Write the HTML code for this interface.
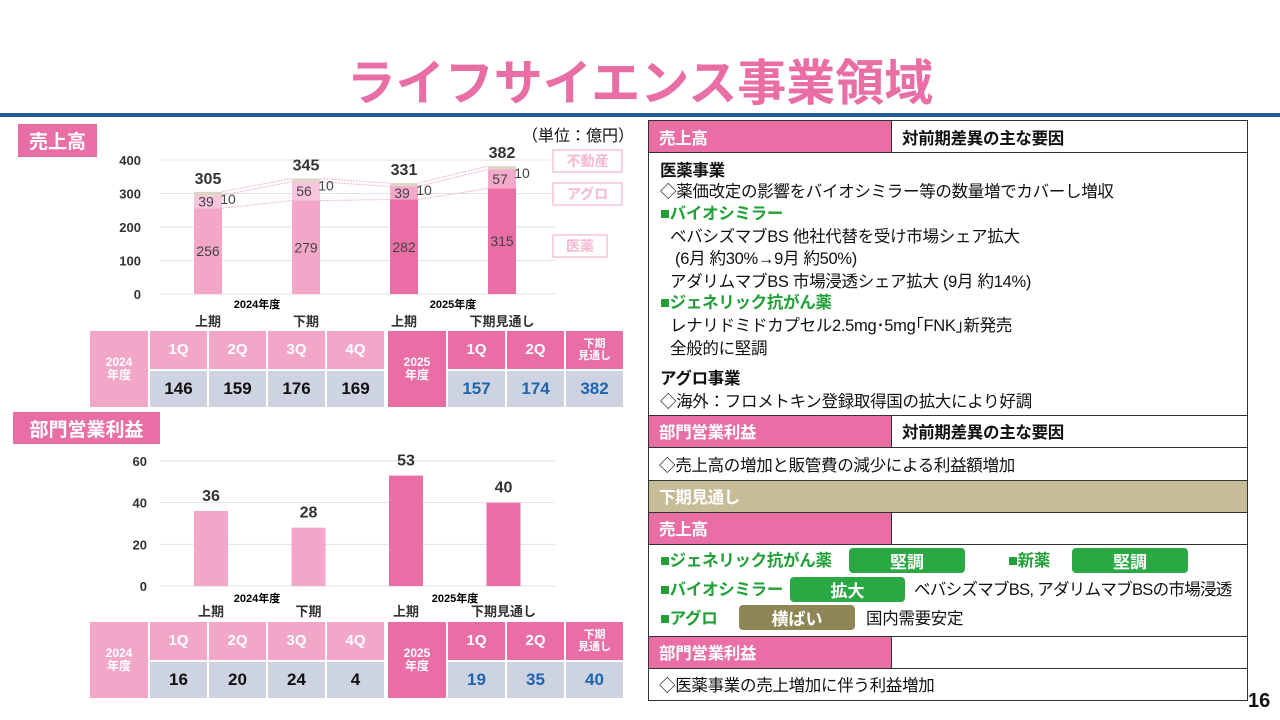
<!DOCTYPE html>
<html><head><meta charset="utf-8">
<style>
*{margin:0;padding:0;box-sizing:border-box}
body{width:1280px;height:720px;background:#fff;position:relative;overflow:hidden;font-family:"Liberation Sans","Noto Sans CJK JP",sans-serif;color:#111}
.a{position:absolute}
.lbl{background:#e86ea5;color:#fff;font-weight:bold;font-size:19px;display:flex;align-items:center;justify-content:center}
.cell{position:absolute;display:flex;align-items:center;justify-content:center;font-weight:bold}
.tr{position:absolute;left:648px;width:600px;border:1.5px solid #333;font-size:16.5px;letter-spacing:-0.3px}
.ln{position:absolute;left:660px;font-size:16.5px;white-space:nowrap;letter-spacing:-0.3px;line-height:1.2;transform:translateY(3px)}
.g{color:#22a038;font-weight:bold}
.tag{position:absolute;height:25px;border-radius:4px;color:#fff;font-weight:bold;font-size:17px;display:flex;align-items:center;justify-content:center}
</style></head><body>
<div class="a" style="left:0;width:1280px;top:44px;text-align:center;font-size:49px;font-weight:bold;color:#e86ea5">ライフサイエンス事業領域</div>
<div class="a" style="left:0;top:113px;width:1280px;height:4px;background:#1f5e9c"></div>

<div class="a lbl" style="left:18px;top:124px;width:79px;height:33px">売上高</div>
<div class="a" style="left:522px;top:122px;font-size:16px">（単位：億円）</div>
<svg class="a" id="c1" style="left:0;top:120px" width="640" height="210"></svg>

<div class="a lbl" style="left:13px;top:412px;width:147px;height:32px">部門営業利益</div>
<svg class="a" id="c2" style="left:0;top:440px" width="640" height="185"></svg>

<div id="t1"></div>
<div id="t2"></div>

<!-- right panel -->
<div class="tr" style="top:120px;height:33px;display:flex">
<div style="width:243px;background:#e86ea5;color:#fff;font-weight:bold;padding:4px 10px;border-right:1.5px solid #333">売上高</div>
<div style="padding:4px 10px;font-weight:bold">対前期差異の主な要因</div></div>
<div class="tr" style="top:152px;height:264px"></div>
<div class="ln" style="top:159px;font-weight:bold">医薬事業</div>
<div class="ln" style="top:180px">◇薬価改定の影響をバイオシミラー等の数量増でカバーし増収</div>
<div class="ln g" style="top:202px">■バイオシミラー</div>
<div class="ln" style="top:225px;left:670px">ベバシズマブBS 他社代替を受け市場シェア拡大</div>
<div class="ln" style="top:247px;left:675px">(6月 約30%→9月 約50%)</div>
<div class="ln" style="top:270px;left:670px">アダリムマブBS 市場浸透シェア拡大 (9月 約14%)</div>
<div class="ln g" style="top:291px">■ジェネリック抗がん薬</div>
<div class="ln" style="top:314px;left:670px">レナリドミドカプセル2.5mg･5mg｢FNK｣新発売</div>
<div class="ln" style="top:337px;left:670px">全般的に堅調</div>
<div class="ln" style="top:367px;font-weight:bold">アグロ事業</div>
<div class="ln" style="top:390px">◇海外：フロメトキン登録取得国の拡大により好調</div>

<div class="tr" style="top:415px;height:33px;display:flex">
<div style="width:243px;background:#e86ea5;color:#fff;font-weight:bold;padding:3px 10px;border-right:1.5px solid #333">部門営業利益</div>
<div style="padding:3px 10px;font-weight:bold">対前期差異の主な要因</div></div>
<div class="tr" style="top:447px;height:34px;padding:4px 10px">◇売上高の増加と販管費の減少による利益額増加</div>
<div class="tr" style="top:480px;height:33px;background:#c6bc98;color:#fff;font-weight:bold;padding:3px 10px">下期見通し</div>
<div class="tr" style="top:512px;height:33px;display:flex">
<div style="width:243px;background:#e86ea5;color:#fff;font-weight:bold;padding:3px 10px;border-right:1.5px solid #333">売上高</div></div>
<div class="tr" style="top:544px;height:93px"></div>
<div class="ln g" style="top:549px">■ジェネリック抗がん薬</div>
<div class="tag" style="left:849px;top:548px;width:116px;background:#2aa844">堅調</div>
<div class="ln g" style="top:549px;left:1008px">■新薬</div>
<div class="tag" style="left:1072px;top:548px;width:116px;background:#2aa844">堅調</div>
<div class="ln g" style="top:578px">■バイオシミラー</div>
<div class="tag" style="left:790px;top:577px;width:115px;background:#2aa844">拡大</div>
<div class="ln" style="top:578px;left:914px;letter-spacing:-0.7px">ベバシズマブBS, アダリムマブBSの市場浸透</div>
<div class="ln g" style="top:607px">■アグロ</div>
<div class="tag" style="left:739px;top:605px;width:116px;background:#8f8656">横ばい</div>
<div class="ln" style="top:607px;left:866px">国内需要安定</div>
<div class="tr" style="top:636px;height:33px;display:flex">
<div style="width:243px;background:#e86ea5;color:#fff;font-weight:bold;padding:3px 10px;border-right:1.5px solid #333">部門営業利益</div></div>
<div class="tr" style="top:668px;height:33px;padding:3px 10px">◇医薬事業の売上増加に伴う利益増加</div>
<div class="a" style="left:1248px;top:690px;font-size:20px;font-weight:bold">16</div>

<script>
const periods=["上期","下期","上期","下期見通し"];
const years=["2024年度","2025年度"];
const pharma=[256,279,282,315];
const agro=[39,56,39,57];
const estate=[10,10,10,10];
const totals=[305,345,331,382];
const salesTicks=[0,100,200,300,400];
const profit=[36,28,53,40];
const profitTicks=[0,20,40,60];
const qHeads=["1Q","2Q","3Q","4Q"];
const qHeads25=["1Q","2Q","下期<br>見通し"];
const salesQ24=[146,159,176,169];
const salesQ25=[157,174,382];
const profitQ24=[16,20,24,4];
const profitQ25=[19,35,40];

const NS="http://www.w3.org/2000/svg";
function mk(svg,tag,at,txt){const e=document.createElementNS(NS,tag);for(const k in at)e.setAttribute(k,at[k]);if(txt!==undefined)e.textContent=txt;svg.appendChild(e);return e;}
const xc=i=>208+i*98;
const light=i=>i<2;
// chart1
(function(){const s=document.getElementById('c1');const y0=174,k=134/400;const y=v=>y0-v*k;
salesTicks.forEach(t=>{const g=mk(s,'line',{x1:160,x2:555,y1:y(t),y2:y(t),stroke:'#e2e2e2'});
const l=mk(s,'text',{x:141,y:y(t)+5,'text-anchor':'end','font-size':13,'font-weight':'bold',fill:'#333'},t);});
const cum=pharma.map((p,n)=>p+agro[n]);
for(let i=0;i<3;i++){[pharma,cum,totals].forEach(vv=>{
const ln=mk(s,'line',{x1:xc(i)+14,x2:xc(i+1)-14,y1:y(vv[i]),y2:y(vv[i+1]),stroke:'#f2b5d0','stroke-dasharray':'2,1','stroke-width':1});});}
pharma.forEach((p,i)=>{const c1=light(i)?'#f2a7c9':'#e86ea5',c2=light(i)?'#f7c6dc':'#f3a9c9';
let b=mk(s,'rect',{x:xc(i)-14,width:28,y:y(p),height:p*k,fill:c1});
b=mk(s,'rect',{x:xc(i)-14,width:28,y:y(p+agro[i]),height:agro[i]*k,fill:c2});
b=mk(s,'rect',{x:xc(i)-14,width:28,y:y(totals[i]),height:(totals[i]-p-agro[i])*k,fill:'#ddd6c6'});
let t=mk(s,'text',{x:xc(i),y:y(p/2)+5,'text-anchor':'middle','font-size':14,fill:'#444'},p);
t=mk(s,'text',{x:xc(i)-2,y:y(p+agro[i]/2)+5,'text-anchor':'middle','font-size':14,fill:'#444'},agro[i]);
t=mk(s,'text',{x:xc(i)+20,y:y(totals[i])+12,'text-anchor':'middle','font-size':14,fill:'#444'},estate[i]);
t=mk(s,'text',{x:xc(i),y:y(totals[i])-8,'text-anchor':'middle','font-size':16,'font-weight':'bold',fill:'#333'},totals[i]);
t=mk(s,'text',{x:xc(i),y:206,'text-anchor':'middle','font-size':13,'font-weight':'bold',fill:'#333'},periods[i]);});
years.forEach((yy,j)=>{const t=mk(s,'text',{x:257+j*196,y:188,'text-anchor':'middle','font-size':11,'font-weight':'bold'},yy);});
[["不動産",553,30,69],["アグロ",553,63,69],["医薬",553,115,54]].forEach(a=>{const r=mk(s,'rect',{x:a[1],y:a[2],width:a[3],height:22,fill:'none',stroke:'#f5c4da','stroke-width':1.5});
const t=mk(s,'text',{x:a[1]+a[3]/2,y:a[2]+16,'text-anchor':'middle','font-size':14,'font-weight':'bold',fill:'#f5b8d2'},a[0]);});
})();
// chart2
(function(){const s=document.getElementById('c2');const y0=146,k=125/60;const y=v=>y0-v*k;
profitTicks.forEach(t=>{const g=mk(s,'line',{x1:160,x2:555,y1:y(t),y2:y(t),stroke:'#e2e2e2'});
const l=mk(s,'text',{x:147,y:y(t)+5,'text-anchor':'end','font-size':13,'font-weight':'bold',fill:'#333'},t);});
profit.forEach((p,i)=>{const cx=211+i*97.5;let b=mk(s,'rect',{x:cx-17,width:34,y:y(p),height:p*k,fill:light(i)?'#f2a7c9':'#e86ea5'});
let t=mk(s,'text',{x:cx,y:y(p)-10,'text-anchor':'middle','font-size':16,'font-weight':'bold',fill:'#333'},p);
t=mk(s,'text',{x:cx,y:176,'text-anchor':'middle','font-size':13,'font-weight':'bold',fill:'#333'},periods[i]);});
years.forEach((yy,j)=>{const t=mk(s,'text',{x:257+j*198,y:162,'text-anchor':'middle','font-size':11,'font-weight':'bold'},yy);});
})();
// tables
function table(id,top,v24,v25){const root=document.getElementById(id);
function cell(x,y,w,h,bg,col,fs,html,name){const d=document.createElement('div');d.className='cell';d.style.cssText=`left:${x}px;top:${y}px;width:${w}px;height:${h}px;background:${bg};color:${col};font-size:${fs}px;line-height:1.1;text-align:center`;d.innerHTML=html;


root.appendChild(d);}
cell(90,top,58,76,'#f2a7c9','#fff',12,'2024<br>年度','year-2024-cell');
qHeads.forEach((q,i)=>{cell(150+i*59,top,57,38,'#f2a7c9','#fff',15,q,'quarter-header');cell(150+i*59,top+40,57,36,'#cdd3e0','#111',17,v24[i],'quarter-value');});
cell(388,top,58,76,'#e86ea5','#fff',12,'2025<br>年度','year-2025-cell');
qHeads25.forEach((q,i)=>{cell(448+i*59,top,57,38,'#e86ea5','#fff',i==2?11:15,q,'quarter-header');cell(448+i*59,top+40,57,36,'#cdd3e0','#1f64b0',17,v25[i],'quarter-value');});}
table('t1',331,salesQ24,salesQ25);
table('t2',622,profitQ24,profitQ25);
</script>
</body></html>
